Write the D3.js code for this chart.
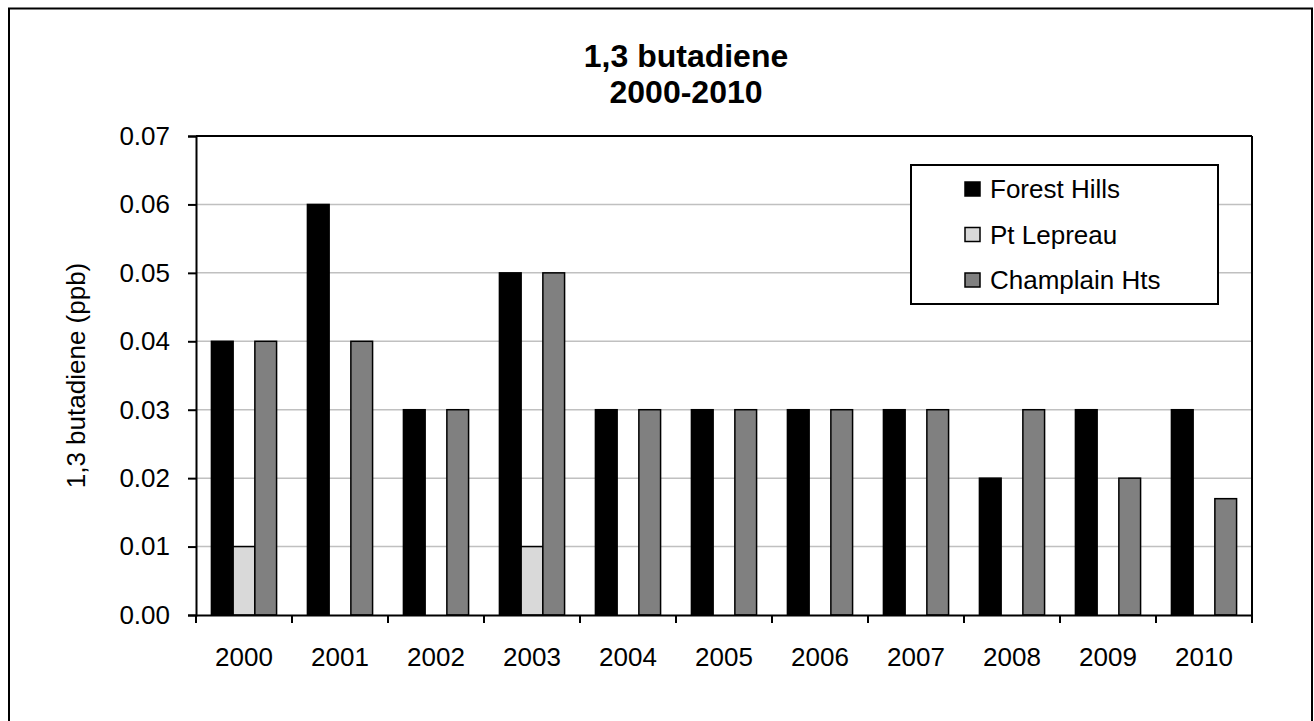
<!DOCTYPE html>
<html>
<head>
<meta charset="utf-8">
<script src="https://cdn.jsdelivr.net/npm/d3@7"></script>
<style>
  body { margin: 0; background: #fff; }
  text { font-family: "Liberation Sans", Arial, sans-serif; }
</style>
</head>
<body>
<div class="CHART"></div>
<script>
// data
var years = ["2000", "2001", "2002", "2003", "2004", "2005", "2006", "2007", "2008", "2009", "2010"];
var seriesNames = ["Forest Hills", "Pt Lepreau", "Champlain Hts"];
var forestHills = [0.04, 0.06, 0.03, 0.05, 0.03, 0.03, 0.03, 0.03, 0.02, 0.03, 0.03];
var ptLepreau = [0.01, null, null, 0.01, null, null, null, null, null, null, null];
var champlainHts = [0.04, 0.04, 0.03, 0.05, 0.03, 0.03, 0.03, 0.03, 0.03, 0.02, 0.017];
var yTicks = [0, 0.01, 0.02, 0.03, 0.04, 0.05, 0.06, 0.07];
var colors = ["#000000", "#d9d9d9", "#808080"];

var W = 1314, H = 721;
var margin = {top: 136, right: 62, bottom: 106, left: 196},
    width = W - margin.left - margin.right,
    height = H - margin.top - margin.bottom;

var svg = d3.select(".CHART").append("svg")
    .attr("width", W)
    .attr("height", H);

// outer chart border
svg.append("rect")
    .attr("x", 9).attr("y", 8.5)
    .attr("width", 1303).attr("height", 730)
    .attr("fill", "none")
    .attr("stroke", "#000")
    .attr("stroke-width", 2);

var g = svg.append("g").attr("transform", "translate(" + margin.left + "," + margin.top + ")");

var x0 = d3.scaleBand().domain(years).range([0, width]);
var x1 = d3.scaleBand().domain(seriesNames).range([0, x0.bandwidth()]).paddingOuter(0.71);
var y = d3.scaleLinear().domain([0, 0.07]).range([height, 0]);

// gridlines
g.selectAll(".grid").data(yTicks.slice(1, -1)).enter().append("line")
    .attr("x1", 0).attr("x2", width)
    .attr("y1", function(d) { return y(d); })
    .attr("y2", function(d) { return y(d); })
    .attr("stroke", "#c0c0c0")
    .attr("stroke-width", 1.5);

// bars
var table = years.map(function(yr, i) {
  return {year: yr, vals: [forestHills[i], ptLepreau[i], champlainHts[i]]};
});

var groups = g.selectAll(".yr").data(table).enter().append("g")
    .attr("transform", function(d) { return "translate(" + x0(d.year) + ",0)"; });

groups.selectAll("rect")
    .data(function(d) {
      return d.vals.map(function(v, j) { return {name: seriesNames[j], value: v, j: j}; })
        .filter(function(e) { return e.value != null; });
    })
    .enter().append("rect")
    .attr("x", function(d) { return x1(d.name); })
    .attr("y", function(d) { return y(d.value); })
    .attr("width", x1.bandwidth())
    .attr("height", function(d) { return height - y(d.value); })
    .attr("fill", function(d) { return colors[d.j]; })
    .attr("stroke", "#000")
    .attr("stroke-width", 1.5);

// plot frame top / right
g.append("line").attr("x1", 0).attr("x2", width).attr("y1", 0).attr("y2", 0)
    .attr("stroke", "#000").attr("stroke-width", 2);
g.append("line").attr("x1", width).attr("x2", width).attr("y1", 0).attr("y2", height)
    .attr("stroke", "#000").attr("stroke-width", 2);

// y axis
var yAxis = g.append("g")
    .call(d3.axisLeft(y).tickValues(yTicks).tickFormat(d3.format(".2f")).tickSize(8).tickPadding(18));
yAxis.select(".domain").attr("stroke-width", 2);
yAxis.selectAll(".tick line").attr("stroke-width", 2);
yAxis.selectAll("text").attr("font-size", 26).attr("fill", "#000")
    .style("font-family", "'Liberation Sans', Arial, sans-serif");

// x axis with ticks at category boundaries
var xAxis = g.append("g").attr("transform", "translate(0," + height + ")")
    .call(d3.axisBottom(x0).tickSize(0).tickPadding(33));
xAxis.select(".domain").attr("stroke-width", 2);
xAxis.selectAll("text").attr("font-size", 26).attr("fill", "#000")
    .style("font-family", "'Liberation Sans', Arial, sans-serif");

var bounds = years.map(function(d) { return x0(d); }).concat([width]);
xAxis.selectAll(".bound").data(bounds).enter().append("line")
    .attr("x1", function(d) { return d; }).attr("x2", function(d) { return d; })
    .attr("y1", 0).attr("y2", 8)
    .attr("stroke", "#000").attr("stroke-width", 2);

// title
svg.append("text").attr("x", 686).attr("y", 67)
    .attr("text-anchor", "middle").attr("font-size", 32).attr("font-weight", "bold")
    .text("1,3 butadiene");
svg.append("text").attr("x", 686).attr("y", 103)
    .attr("text-anchor", "middle").attr("font-size", 32).attr("font-weight", "bold")
    .text("2000-2010");

// y axis title
svg.append("text")
    .attr("transform", "translate(85," + (margin.top + height / 2) + ") rotate(-90)")
    .attr("text-anchor", "middle").attr("font-size", 26)
    .text("1,3 butadiene (ppb)");

// legend
var legend = svg.append("g").attr("transform", "translate(911,165)");
legend.append("rect")
    .attr("width", 307).attr("height", 139)
    .attr("fill", "#fff").attr("stroke", "#000").attr("stroke-width", 2);

var items = legend.selectAll(".item").data(seriesNames).enter().append("g")
    .attr("transform", function(d, i) { return "translate(54," + (24 + i * 45.5) + ")"; });
items.append("rect")
    .attr("x", 0).attr("y", -7)
    .attr("width", 15).attr("height", 14)
    .attr("fill", function(d, i) { return colors[i]; })
    .attr("stroke", "#000").attr("stroke-width", 1.5);
items.append("text")
    .attr("x", 25).attr("y", 9)
    .attr("font-size", 26)
    .text(function(d) { return d; });
</script>
</body>
</html>
